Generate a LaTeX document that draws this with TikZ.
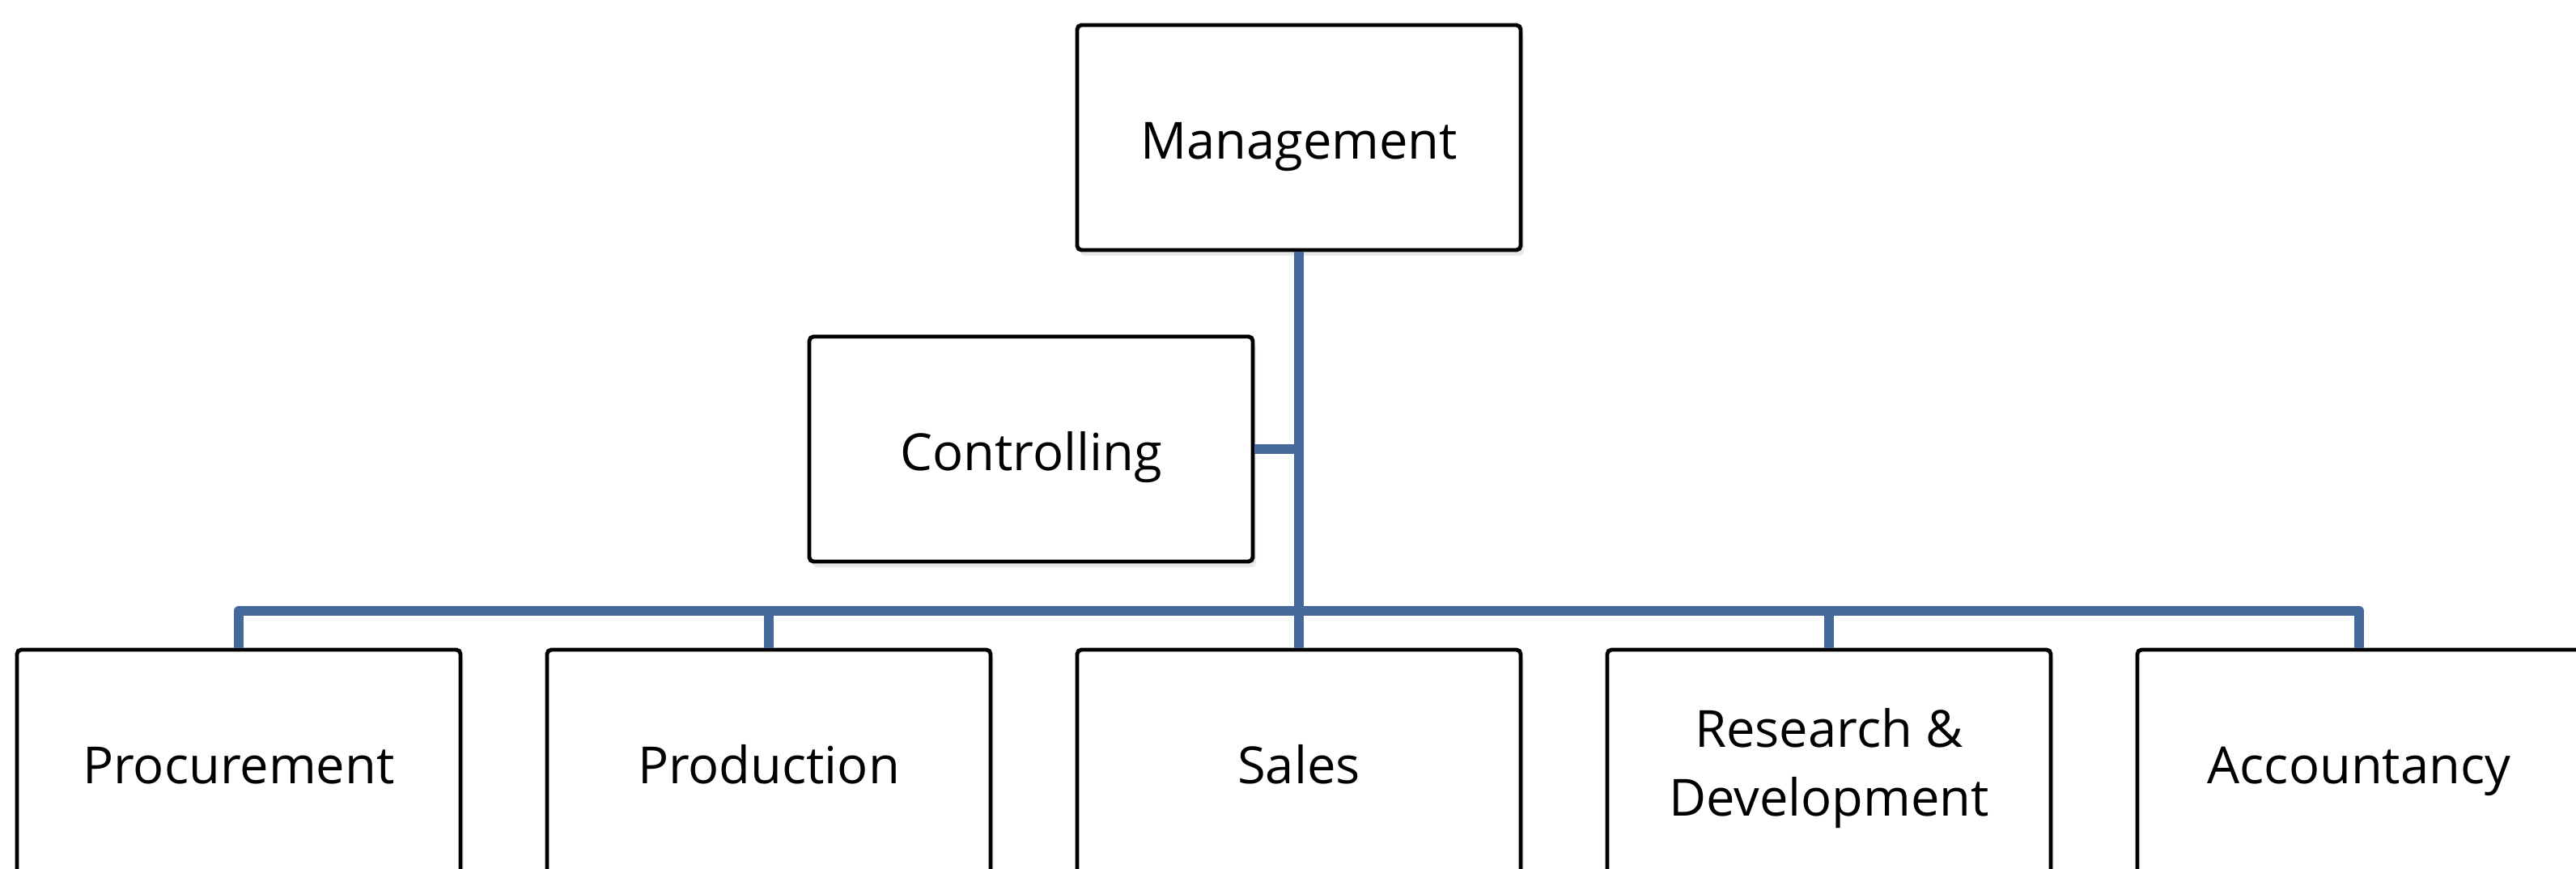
\documentclass[tikz,border=0pt]{standalone}
\usepackage{fontspec}
\setmainfont{Open Sans}
\usetikzlibrary{shadows}
\definecolor{linkblue}{HTML}{45699A}
\begin{document}
\begin{tikzpicture}[
  unit/.style={draw=black, line width=1.4pt, fill=white, rounded corners=1.5pt, minimum width=5.48cm, minimum height=2.78cm, align=center, font=\fontsize{18}{24}\selectfont, drop shadow={opacity=0.18, shadow xshift=0.04cm, shadow yshift=-0.07cm}},
  oneline/.style={unit, text height=15pt, text depth=0pt},
  link/.style={draw=linkblue, line width=3.4pt, line join=round}]
\useasboundingbox (0,0) rectangle (31.83,-10.73);
\node[oneline] (unit0) at (16.05,-1.70){Management};
\node[oneline] (unit1) at (12.74,-5.55){Controlling};
\coordinate (bus) at (16.05,-7.55);
\node[oneline] (unit2) at (2.95,-9.42){Procurement};
\node[oneline] (unit3) at (9.50,-9.42){Production};
\node[oneline] (unit4) at (16.05,-9.42){Sales};
\node[unit, text depth=0pt] (unit5) at (22.60,-9.42){Research \&\\Development};
\node[oneline] (unit6) at (29.15,-9.42){Accountancy};
\draw[link](unit0) -- (bus);
\draw[link](unit1) -- (unit1 -| bus);
\draw[link](bus) -- (unit4);
\draw[link](bus) -| (unit2);
\draw[link](bus) -| (unit3);
\draw[link](bus) -| (unit5);
\draw[link](bus) -| (unit6);
\end{tikzpicture}
\end{document}
